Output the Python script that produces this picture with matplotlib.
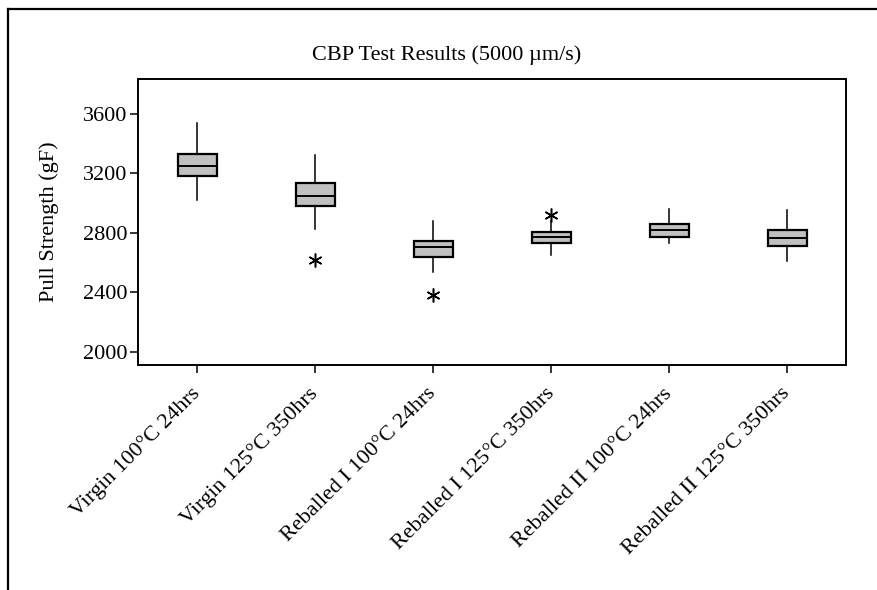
import matplotlib
matplotlib.use('Agg')

import matplotlib.pyplot as plt
from matplotlib.lines import Line2D

# box summaries per test group (gF)
groups = ["Virgin 100°C 24hrs", "Virgin 125°C 350hrs", "Reballed I 100°C 24hrs",
          "Reballed I 125°C 350hrs", "Reballed II 100°C 24hrs", "Reballed II 125°C 350hrs"]
whisker_low = [3019, 2824, 2537, 2649, 2732, 2609]
q1 = [3185, 2981, 2640, 2734, 2774, 2712]
median = [3248, 3046, 2703, 2772, 2817, 2766]
q3 = [3331, 3136, 2743, 2806, 2858, 2817]
whisker_high = [3541, 3322, 2880, 2880, 2961, 2952]
outliers = [[], [2618], [2380], [2918], [], []]

yticks = [2000, 2400, 2800, 3200, 3600]

plt.rcParams['font.family'] = ['Liberation Serif', 'DejaVu Serif']
plt.rcParams['font.size'] = 16

fig = plt.figure(figsize=(8.78, 5.90), dpi=100)
ax = fig.add_axes([0.1575, 0.3819, 0.8066, 0.4842])

stats = []
for i in range(len(groups)):
    stats.append({
        "whislo": whisker_low[i], "q1": q1[i], "med": median[i],
        "q3": q3[i], "whishi": whisker_high[i], "fliers": outliers[i],
    })

ax.bxp(stats, positions=range(1, len(groups) + 1), widths=0.33,
       patch_artist=True, showcaps=False,
       boxprops=dict(facecolor="#c0c0c0", edgecolor="black", linewidth=1.6),
       medianprops=dict(color="black", linewidth=1.4),
       whiskerprops=dict(color="black", linewidth=1.1),
       flierprops=dict(marker=(6, 2, 0), markersize=10, markeredgecolor="black",
                       markeredgewidth=1.1, linestyle="none"))

ax.set_xlim(0.5, 6.5)
ax.set_ylim(1912, 3835)
ax.set_yticks(yticks)
ax.set_xticks(range(1, len(groups) + 1))
ax.set_xticklabels(groups, rotation=45, ha="right", va="center", rotation_mode="anchor")
ax.tick_params(direction="out", length=6, width=1.1, color="black")
ax.tick_params(axis="y", pad=2)
ax.tick_params(axis="x", pad=13)
for sp in ax.spines.values():
    sp.set_linewidth(1.4)

ax.set_ylabel("Pull Strength (gF)", labelpad=17)
fig.text(0.509, 0.907, "CBP Test Results (5000 µm/s)", ha="center", va="center")

# frame around the whole graph
fig.add_artist(Line2D([0.0091, 1.0], [0.9847, 0.9847], color="black", linewidth=1.6))
fig.add_artist(Line2D([0.0091, 0.0091], [0.0, 0.9847], color="black", linewidth=1.6))

plt.savefig("out.png", dpi=100)
